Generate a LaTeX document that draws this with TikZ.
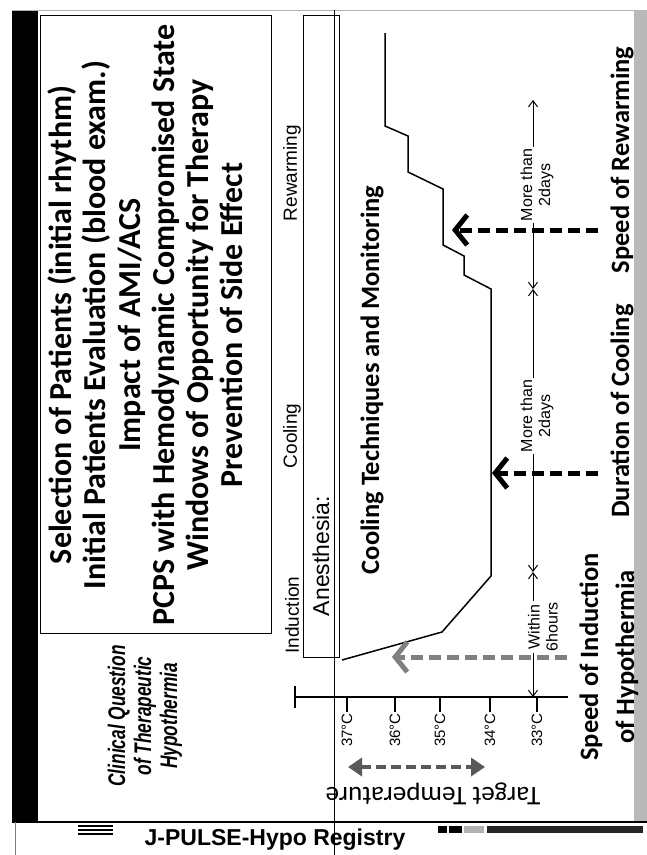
\documentclass[tikz,border=0pt]{standalone}
\usepackage{fontspec}
\setmainfont{Liberation Sans}
\newfontfamily\calib{Carlito}
\newfontfamily\narrowbold[FakeStretch=0.72]{Liberation Sans}
\usetikzlibrary{arrows.meta, positioning, calc}

\begin{document}
\begin{tikzpicture}[x=1pt, y=-1pt, semithick, >={Straight Barb[length=6pt,width=9pt]}]
	\tikzstyle{qline}=[rotate=90, inner sep=0pt, text height=24pt, text depth=8pt, font=\calib\bfseries\fontsize{32}{36}\selectfont]
	\tikzstyle{bottomtext}=[rotate=90, inner sep=0pt, align=center, font=\calib\bfseries\fontsize{26.5}{36}\selectfont]
	\tikzstyle{phasename}=[rotate=90, inner sep=0pt, font=\fontsize{19}{21}\selectfont]
	\tikzstyle{templabel}=[rotate=90, inner sep=0pt, font=\fontsize{15}{17}\selectfont]
	\tikzstyle{spantext}=[rotate=90, inner sep=1.5pt, fill=white, align=center, font=\fontsize{16}{18}\selectfont]
	\tikzstyle{dimline}=[line width=1pt, <->]
	\tikzstyle{stage arrow}=[line width=5pt, dash pattern=on 12pt off 6pt, -{Straight Barb[length=12pt,width=30pt,line width=5pt]}]
	\tikzstyle{target arrow}=[gray!70!black, line width=4pt, dash pattern=on 10pt off 5pt, {Triangle[length=14pt,width=18pt]}-{Triangle[length=14pt,width=18pt]}]
	
	\useasboundingbox (0,0) rectangle (647,855);
	\fill[white] (0,0) rectangle (647,855);
	
	% frame of the slide
	\fill (12,10) rectangle (38,822);
	\fill[gray!55] (634,10) rectangle (647,822);
	\draw[gray!60, line width=1pt] (12,10) -- (634,10);
	\draw[line width=2pt] (12,822) -- (647,822);
	\draw[gray, thin] (15,822) -- (15,855);
	\draw[thin] (334,10) -- (334,855);
	
	% clinical questions
	\draw[line width=1pt] (40,15) rectangle (271,633);
	\node[qline] (q1) at (63,325)  {Selection of Patients (initial rhythm)};
	\node[qline] (q2) at (97,325)  {Initial Patients Evaluation (blood exam.)};
	\node[qline] (q3) at (132,325) {Impact of AMI/ACS};
	\node[qline] (q4) at (166,325) {PCPS with Hemodynamic Compromised State};
	\node[qline] (q5) at (200,325) {Windows of Opportunity for Therapy};
	\node[qline] (q6) at (234,325) {Prevention of Side Effect};
	
	\node[rotate=90, align=center, font=\narrowbold\bfseries\itshape\fontsize{24}{26}\selectfont] (title) at (145,716) {Clinical Question\\of Therapeutic\\Hypothermia};
	
	% phases
	\node[phasename] (induction) at (292,615) {Induction};
	\node[phasename] (cooling)   at (292,436) {Cooling};
	\node[phasename] (rewarming) at (292,173) {Rewarming};
	
	\draw[line width=1pt] (303,15) rectangle (339,657);
	\node[rotate=90, inner sep=0pt, font=\fontsize{23}{25}\selectfont] (anesthesia) at (321,556) {Anesthesia:};
	\node[bottomtext] (technique) at (372,380) {Cooling Techniques and Monitoring};
	
	% temperature course
	\draw[line width=1.5pt] (342,660) -- (442,632) -- (491,576) -- (491,289) -- (464,275) -- (464,256)
		-- (443,245) -- (443,189) -- (408,172) -- (408,136) -- (385,126) -- (385,33);
	
	% temperature axis
	\draw[line width=1.5pt] (295,697) -- (568,697);
	\draw[line width=1.5pt] (295,686) -- (295,708);
	\coordinate (t37) at (347,697);
	\coordinate (t36) at (395,697);
	\coordinate (t35) at (440,697);
	\coordinate (t34) at (490,697);
	\coordinate (t33) at (537,697);
	\draw[line width=1.5pt] (t37) -- ++(0,15);
	\draw[line width=1.5pt] (t36) -- ++(0,15);
	\draw[line width=1.5pt] (t35) -- ++(0,15);
	\draw[line width=1.5pt] (t34) -- ++(0,15);
	\draw[line width=1.5pt] (t33) -- ++(0,15);
	\node[templabel] (l37) at (347,730) {37°C};
	\node[templabel] (l36) at (395,730) {36°C};
	\node[templabel] (l35) at (440,730) {35°C};
	\node[templabel] (l34) at (490,730) {34°C};
	\node[templabel] (l33) at (537,730) {33°C};
	
	% durations
	\coordinate (d0) at (533,697);
	\coordinate (d1) at (533,572);
	\coordinate (d2) at (533,289);
	\coordinate (d3) at (533,100);
	\draw[dimline] (d0) -- (d1);
	\draw[dimline] (d1) -- (d2);
	\draw[dimline] (d2) -- (d3);
	
	\coordinate (ind0) at (567,657);
	\coordinate (ind1) at (392,657);
	\coordinate (cool0) at (598,473);
	\coordinate (cool1) at (492,473);
	\coordinate (rew0) at (598,230);
	\coordinate (rew1) at (452,230);
	\draw[stage arrow, black!50] (ind0) -- (ind1);
	\draw[stage arrow] (cool0) -- (cool1);
	\draw[stage arrow] (rew0) -- (rew1);
	
	\node[spantext] (within) at (543,627) {Within\\6hours};
	\node[spantext] (cooldays) at (537,416) {More than\\2days};
	\node[spantext] (rewdays) at (537,185) {More than\\2days};
	
	% target temperature
	\coordinate (tg0) at (348,767);
	\coordinate (tg1) at (485,767);
	\draw[target arrow] (tg0) -- (tg1);
	\node[rotate=180, inner sep=0pt, font=\calib\fontsize{27}{30}\selectfont] (target) at (433,794) {Target Temperature};
	
	% questions below the chart
	\node[bottomtext] (speedind) at (609,657) {Speed of Induction\\of Hypothermia};
	\node[bottomtext] (duration) at (622,411) {Duration of Cooling};
	\node[bottomtext] (speedrew) at (622,160) {Speed of Rewarming};
	
	% footer
	\draw[line width=1.5pt] (78,826) -- (113,826);
	\draw[line width=1.5pt] (78,830) -- (113,830);
	\draw[line width=1.5pt] (78,834) -- (113,834);
	\node[font=\bfseries\fontsize{23}{25}\selectfont] (registry) at (275,840) {J-PULSE-Hypo Registry};
	\fill (438,826) rectangle (447,833);
	\fill (449,826) rectangle (462,833);
	\fill[gray!60] (464,826) rectangle (484,833);
	\fill[black!85] (487,826) rectangle (643,833);
\end{tikzpicture}
\end{document}
